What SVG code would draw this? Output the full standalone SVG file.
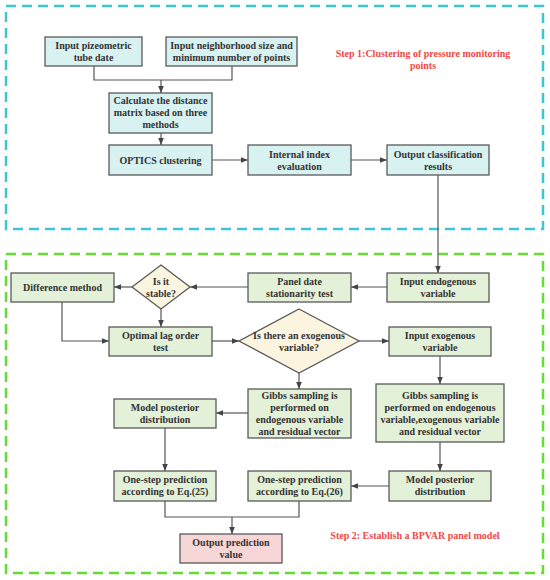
<svg xmlns="http://www.w3.org/2000/svg" width="550" height="580" viewBox="0 0 550 580">
<defs>
<marker id="ah" viewBox="0 0 10 10" refX="10" refY="5" markerWidth="7" markerHeight="7" markerUnits="userSpaceOnUse" orient="auto">
<path d="M0,1 L10,5 L0,9 z" fill="#444"/>
</marker>
<style>
.bc{fill:#d8f1f1;stroke:#5a5a5a;stroke-width:1.3}
.bg{fill:#e2f1d8;stroke:#5a5a5a;stroke-width:1.3}
.bd{fill:#fbf4df;stroke:#5a5a5a;stroke-width:1.3}
.bp{fill:#f6d6d6;stroke:#5a5a5a;stroke-width:1.3}
text{font-family:"Liberation Serif","Times New Roman",serif;font-weight:bold;font-size:10px;fill:#333;text-anchor:middle}
.st{fill:#f04848}
.c{fill:none;stroke:#555;stroke-width:1.2}
.ca{fill:none;stroke:#555;stroke-width:1.2;marker-end:url(#ah)}
</style>
</defs>
<rect x="6" y="6" width="537" height="223" fill="none" stroke="#3cc8d0" stroke-width="2.5" stroke-dasharray="10,6"/>
<rect x="6" y="254" width="537" height="319" fill="none" stroke="#66dd33" stroke-width="2.5" stroke-dasharray="10,6"/>
<text class="st" x="423" y="57">Step 1:Clustering of pressure monitoring</text>
<text class="st" x="423" y="69">points</text>
<text class="st" x="415" y="539">Step 2: Establish a BPVAR panel model</text>
<g id="connectors">
<polyline class="c" points="94,66 94,80 232,80 232,66"/>
<line class="ca" x1="161" y1="80" x2="161" y2="93"/>
<line class="ca" x1="161" y1="133" x2="161" y2="145"/>
<line class="ca" x1="212" y1="160" x2="248" y2="160"/>
<line class="ca" x1="351" y1="160" x2="387" y2="160"/>
<line class="ca" x1="438" y1="175" x2="438" y2="273"/>
<line class="ca" x1="387" y1="287" x2="351" y2="287"/>
<line class="ca" x1="248" y1="287" x2="190" y2="287"/>
<line class="ca" x1="132" y1="287" x2="114" y2="287"/>
<line class="ca" x1="161" y1="309" x2="161" y2="327"/>
<polyline class="ca" points="62,302 62,341 109,341"/>
<line class="ca" x1="212" y1="341" x2="239" y2="341"/>
<line class="ca" x1="359" y1="341" x2="389" y2="341"/>
<line class="ca" x1="299" y1="373" x2="299" y2="389"/>
<line class="ca" x1="440" y1="356" x2="440" y2="384"/>
<line class="ca" x1="248" y1="413" x2="216" y2="413"/>
<line class="ca" x1="165" y1="428" x2="165" y2="471"/>
<line class="ca" x1="440" y1="442" x2="440" y2="471"/>
<line class="ca" x1="389" y1="486" x2="351" y2="486"/>
<polyline class="c" points="165,501 165,517 299,517 299,501"/>
<line class="ca" x1="232" y1="517" x2="232" y2="534"/>
</g>
<g id="n1"><rect class="bc" x="45" y="37" width="97" height="29"/><text x="93.5" y="48.5">Input pizeometric</text><text x="93.5" y="60.5">tube date</text></g>
<g id="n2"><rect class="bc" x="166" y="37" width="131" height="29"/><text x="231.5" y="48.5">Input neighborhood size and</text><text x="231.5" y="60.5">minimum number of points</text></g>
<g id="n3"><rect class="bc" x="109" y="93" width="103" height="40"/><text x="160.5" y="104">Calculate the distance</text><text x="160.5" y="116">matrix based on three</text><text x="160.5" y="128">methods</text></g>
<g id="n4"><rect class="bc" x="109" y="145" width="103" height="30"/><text x="160.5" y="163.5">OPTICS clustering</text></g>
<g id="n5"><rect class="bc" x="248" y="145" width="103" height="30"/><text x="299.5" y="157.5">Internal index</text><text x="299.5" y="169.5">evaluation</text></g>
<g id="n6"><rect class="bc" x="387" y="145" width="102" height="30"/><text x="438" y="157.5">Output classification</text><text x="438" y="169.5">results</text></g>
<g id="n7"><rect class="bg" x="387" y="273" width="102" height="29"/><text x="438" y="284.5">Input endogenous</text><text x="438" y="296.5">variable</text></g>
<g id="n8"><rect class="bg" x="248" y="273" width="103" height="29"/><text x="299.5" y="284.5">Panel date</text><text x="299.5" y="296.5">stationarity test</text></g>
<g id="n9"><polygon class="bd" points="161,265 190,287 161,309 132,287"/><text x="161" y="284.5">Is it</text><text x="161" y="296.5">stable?</text></g>
<g id="n10"><rect class="bg" x="11" y="273" width="103" height="29"/><text x="62.5" y="290.5">Difference method</text></g>
<g id="n11"><rect class="bg" x="109" y="327" width="103" height="29"/><text x="160.5" y="338.5">Optimal lag order</text><text x="160.5" y="350.5">test</text></g>
<g id="n12"><polygon class="bd" points="299,309 359,341 299,373 239,341"/><text x="299" y="338.5">Is there an exogenous</text><text x="299" y="350.5">variable?</text></g>
<g id="n13"><rect class="bg" x="389" y="327" width="102" height="29"/><text x="440" y="338.5">Input exogenous</text><text x="440" y="350.5">variable</text></g>
<g id="n14"><rect class="bg" x="248" y="389" width="103" height="49"/><text x="299.5" y="399">Gibbs sampling is</text><text x="299.5" y="411">performed on</text><text x="299.5" y="423">endogenous variable</text><text x="299.5" y="435">and residual vector</text></g>
<g id="n15"><rect class="bg" x="376" y="384" width="128" height="58"/><text x="440" y="399">Gibbs sampling is</text><text x="440" y="411">performed on endogenous</text><text x="440" y="423">variable,exogenous variable</text><text x="440" y="435">and residual vector</text></g>
<g id="n16"><rect class="bg" x="114" y="399" width="102" height="29"/><text x="165" y="410.5">Model posterior</text><text x="165" y="422.5">distribution</text></g>
<g id="n17"><rect class="bg" x="114" y="471" width="102" height="30"/><text x="165" y="483">One-step prediction</text><text x="165" y="495">according to Eq.(25)</text></g>
<g id="n18"><rect class="bg" x="248" y="471" width="103" height="30"/><text x="299.5" y="483">One-step prediction</text><text x="299.5" y="495">according to Eq.(26)</text></g>
<g id="n19"><rect class="bg" x="389" y="471" width="102" height="30"/><text x="440" y="483">Model posterior</text><text x="440" y="495">distribution</text></g>
<g id="n20"><rect class="bp" x="180" y="534" width="102" height="29"/><text x="231" y="545.5">Output prediction</text><text x="231" y="557.5">value</text></g>
</svg>
